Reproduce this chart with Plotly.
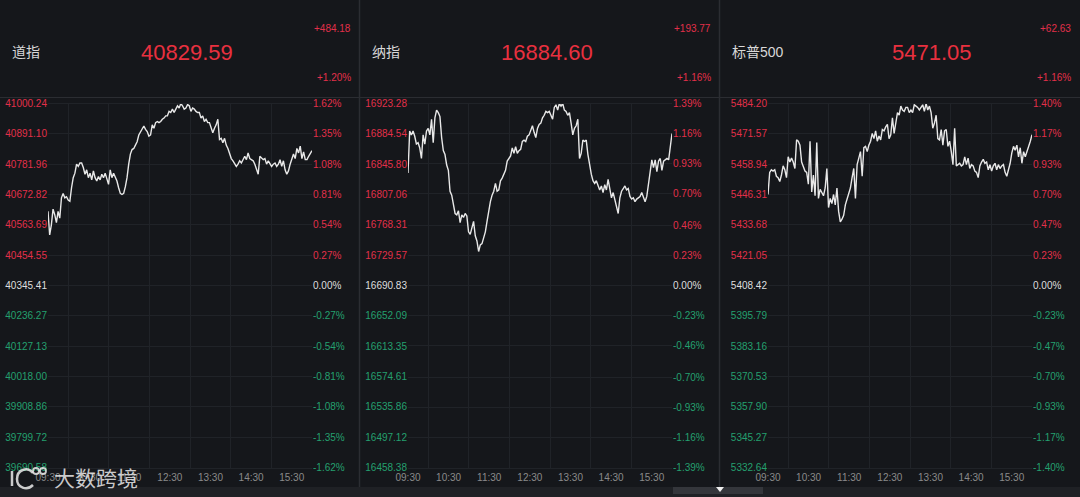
import pandas as pd
import plotly.graph_objects as go

W, H = 1080, 497
DAY = "2024-07-12"

names = ["道指", "纳指", "标普500"]
last_prices = ["40829.59", "16884.60", "5471.05"]
changes = ["+484.18", "+193.77", "+62.63"]
change_pcts = ["+1.20%", "+1.16%", "+1.16%"]

time_labels = ["09:30", "10:30", "11:30", "12:30", "13:30", "14:30", "15:30"]
grid_times = ["10:00", "11:00", "12:00", "13:00", "14:00", "15:00"]

dow_price_ticks = [41000.24, 40891.10, 40781.96, 40672.82, 40563.69, 40454.55, 40345.41,
                   40236.27, 40127.13, 40018.00, 39908.86, 39799.72, 39690.58]
dow_pct_ticks = [1.62, 1.35, 1.08, 0.81, 0.54, 0.27, 0.00, -0.27, -0.54, -0.81, -1.08, -1.35, -1.62]

nasdaq_price_ticks = [16923.28, 16884.54, 16845.80, 16807.06, 16768.31, 16729.57, 16690.83,
                      16652.09, 16613.35, 16574.61, 16535.86, 16497.12, 16458.38]
nasdaq_pct_ticks = [1.39, 1.16, 0.93, 0.70, 0.46, 0.23, 0.00, -0.23, -0.46, -0.70, -0.93, -1.16, -1.39]

sp_price_ticks = [5484.20, 5471.57, 5458.94, 5446.31, 5433.68, 5421.05, 5408.42,
                  5395.79, 5383.16, 5370.53, 5357.90, 5345.27, 5332.64]
sp_pct_ticks = [1.40, 1.17, 0.93, 0.70, 0.47, 0.23, 0.00, -0.23, -0.47, -0.70, -0.93, -1.17, -1.40]

# intraday change vs previous close, %
dow_pct = [0.66, 0.45, 0.54, 0.68, 0.63, 0.56, 0.66, 0.60, 0.78, 0.82,
           0.78, 0.79, 0.76, 0.75, 0.87, 0.96, 1.00, 1.08, 1.06, 1.09,
           1.09, 1.05, 0.99, 1.03, 0.96, 1.00, 0.94, 1.02, 0.96, 0.93,
           0.97, 0.94, 0.99, 0.96, 1.00, 0.94, 0.90, 1.03, 0.96, 1.00,
           0.97, 0.93, 0.87, 0.82, 0.81, 0.82, 0.88, 0.96, 1.08, 1.17,
           1.21, 1.22, 1.25, 1.28, 1.34, 1.37, 1.40, 1.42, 1.39, 1.37,
           1.33, 1.34, 1.43, 1.40, 1.45, 1.46, 1.45, 1.46, 1.48, 1.49,
           1.51, 1.51, 1.55, 1.54, 1.57, 1.54, 1.57, 1.60, 1.58, 1.62,
           1.60, 1.57, 1.58, 1.61, 1.60, 1.55, 1.58, 1.57, 1.55, 1.54,
           1.54, 1.49, 1.51, 1.46, 1.48, 1.45, 1.45, 1.40, 1.36, 1.40,
           1.43, 1.48, 1.30, 1.31, 1.27, 1.31, 1.25, 1.22, 1.18, 1.13,
           1.11, 1.09, 1.06, 1.08, 1.11, 1.09, 1.12, 1.15, 1.12, 1.18,
           1.13, 1.12, 1.11, 1.08, 1.03, 0.99, 1.15, 1.13, 1.12, 1.13,
           1.08, 1.11, 1.09, 1.06, 1.08, 1.09, 1.06, 1.08, 1.12, 1.06,
           1.11, 1.03, 0.99, 1.02, 1.08, 1.13, 1.17, 1.13, 1.22, 1.18,
           1.24, 1.13, 1.19, 1.12, 1.12, 1.15, 1.17, 1.20]

nasdaq_pct = [0.86, 1.18, 1.15, 1.18, 1.14, 1.08, 1.09, 1.05, 0.97, 1.15,
              1.08, 1.18, 1.20, 1.15, 1.27, 1.09, 1.28, 1.34, 1.32, 1.29,
              1.13, 1.03, 1.00, 0.92, 0.88, 0.72, 0.69, 0.62, 0.55, 0.54,
              0.57, 0.48, 0.54, 0.52, 0.55, 0.53, 0.41, 0.39, 0.44, 0.49,
              0.38, 0.34, 0.26, 0.31, 0.32, 0.36, 0.41, 0.49, 0.57, 0.64,
              0.69, 0.72, 0.78, 0.72, 0.73, 0.80, 0.82, 0.85, 0.88, 0.95,
              0.97, 0.99, 1.05, 1.01, 1.06, 1.01, 1.03, 1.04, 1.10, 1.11,
              1.10, 1.14, 1.15, 1.18, 1.22, 1.17, 1.13, 1.20, 1.23, 1.24,
              1.28, 1.30, 1.33, 1.32, 1.33, 1.30, 1.27, 1.36, 1.38, 1.34,
              1.39, 1.37, 1.39, 1.34, 1.33, 1.30, 1.32, 1.24, 1.15, 1.20,
              1.22, 1.27, 0.97, 1.01, 1.11, 1.10, 1.11, 1.00, 0.92, 0.85,
              0.80, 0.78, 0.80, 0.77, 0.73, 0.76, 0.71, 0.77, 0.73, 0.81,
              0.74, 0.67, 0.71, 0.66, 0.59, 0.55, 0.67, 0.72, 0.74, 0.76,
              0.73, 0.74, 0.68, 0.66, 0.67, 0.64, 0.66, 0.67, 0.68, 0.71,
              0.67, 0.64, 0.68, 0.77, 0.86, 0.96, 0.90, 0.96, 0.87, 0.95,
              0.97, 0.88, 0.95, 0.96, 0.97, 0.96, 1.05, 1.16]

sp_pct = [0.70, 0.87, 0.89, 0.88, 0.89, 0.84, 0.83, 0.80, 0.85, 0.92,
          0.89, 0.83, 0.99, 0.95, 0.98, 0.95, 0.90, 1.12, 1.11, 1.08,
          0.95, 0.92, 0.88, 0.87, 0.78, 1.11, 0.72, 0.85, 0.69, 1.10,
          0.67, 0.74, 0.71, 0.69, 0.75, 0.90, 0.60, 0.67, 0.63, 0.70,
          0.62, 0.75, 0.57, 0.49, 0.51, 0.54, 0.62, 0.67, 0.70, 0.75,
          0.83, 0.90, 0.67, 0.93, 0.98, 1.03, 0.84, 1.06, 1.07, 1.03,
          1.08, 1.11, 1.17, 1.13, 1.19, 1.11, 1.15, 1.12, 1.20, 1.19,
          1.22, 1.24, 1.13, 1.16, 1.29, 1.17, 1.25, 1.33, 1.31, 1.38,
          1.35, 1.34, 1.37, 1.37, 1.33, 1.35, 1.33, 1.39, 1.38, 1.37,
          1.35, 1.37, 1.39, 1.34, 1.40, 1.35, 1.38, 1.33, 1.21, 1.25,
          1.31, 1.13, 1.12, 1.20, 1.08, 1.19, 1.20, 1.07, 1.11, 1.03,
          0.93, 1.21, 0.92, 0.93, 0.94, 0.92, 0.93, 0.99, 0.93, 0.98,
          0.90, 0.93, 0.92, 0.88, 0.87, 0.83, 0.92, 0.95, 0.97, 0.94,
          0.95, 0.89, 0.93, 0.88, 0.92, 0.94, 0.89, 0.93, 0.90, 0.92,
          0.93, 0.87, 0.84, 0.89, 0.94, 1.02, 1.07, 1.04, 1.08, 0.99,
          1.06, 0.94, 1.03, 0.99, 1.03, 1.06, 1.11, 1.16]

BG = "#15171b"
GRID = "#202328"
DIVIDER = "#2b2d32"
RED = "#e2304a"
GREEN = "#24a06f"
ZERO = "#dedede"
WATERMARK = "rgba(235,235,235,0.85)"
FONT = "Liberation Sans, Arial, Noto Sans CJK SC, sans-serif"


def px(x):
    return x / W


def py(y):
    return 1 - y / H


def pt(x, y):
    return f"{px(x)},{py(y)}"


def colored(vals, signs, fmt):
    out = []
    for v, s in zip(vals, signs):
        c = RED if s > 0 else GREEN if s < 0 else ZERO
        out.append(f"<span style='color:{c}'>{fmt.format(v)}</span>")
    return out


panels = [
    (dow_pct, dow_price_ticks, dow_pct_ticks, 187),
    (nasdaq_pct, nasdaq_price_ticks, nasdaq_pct_ticks, 187),
    (sp_pct, sp_price_ticks, sp_pct_ticks, 212),
]

fig = go.Figure()
layout = {}
annotations = []
shapes = []

for i, (series, price_ticks, pct_ticks, center) in enumerate(panels):
    ox = 360 * i
    xa = f"x{i + 1}" if i else "x"
    ya_pct = f"y{2 * i + 1}" if i else "y"
    ya_price = f"y{2 * i + 2}"
    times = pd.date_range(f"{DAY} 09:30", f"{DAY} 16:00", periods=len(series))

    fig.add_trace(go.Scatter(x=times, y=series, xaxis=xa, yaxis=ya_pct, mode="lines",
                             line=dict(color="#e8e8e8", width=1.4), showlegend=False,
                             hoverinfo="skip"))
    fig.add_trace(go.Scatter(x=[times[0]], y=[price_ticks[6]], xaxis=xa, yaxis=ya_price,
                             mode="markers", marker=dict(opacity=0), showlegend=False,
                             hoverinfo="skip"))

    xkey = f"xaxis{i + 1}" if i else "xaxis"
    layout[xkey] = dict(
        domain=[px(ox + 48), px(ox + 312)], anchor=ya_pct, type="date", automargin=False,
        range=[f"{DAY} 09:30", f"{DAY} 16:00"],
        tickmode="array", tickvals=[f"{DAY} {t}" for t in time_labels], ticktext=time_labels,
        tickfont=dict(size=10, color="#8a8a8a"), ticks="", showgrid=False, zeroline=False,
        minor=dict(tickmode="array", tickvals=[f"{DAY} {t}" for t in grid_times],
                   showgrid=True, gridcolor=GRID, gridwidth=1, ticks=""),
        showline=True, mirror=True, linecolor=GRID, linewidth=1,
    )
    ykey = f"yaxis{2 * i + 1}" if i else "yaxis"
    layout[ykey] = dict(
        domain=[py(467.5), py(103.5)], anchor=xa, side="right", automargin=False,
        range=[pct_ticks[-1], pct_ticks[0]], tickmode="array", tickvals=pct_ticks,
        ticktext=colored(pct_ticks, pct_ticks, "{:.2f}%"), tickfont=dict(size=10), ticks="",
        showgrid=True, gridcolor=GRID, gridwidth=1, zeroline=False, showline=False,
    )
    layout[f"yaxis{2 * i + 2}"] = dict(
        overlaying=ya_pct, anchor=xa, side="left", automargin=False,
        range=[price_ticks[-1], price_ticks[0]], tickmode="array", tickvals=price_ticks,
        ticktext=colored(price_ticks, pct_ticks, "{:.2f}"), tickfont=dict(size=10), ticks="",
        showgrid=False, zeroline=False, showline=False,
    )

    annotations += [
        dict(x=px(ox + 10), y=py(52), text=names[i], xanchor="left", yanchor="middle",
             font=dict(size=14, color="#d8d8d8")),
        dict(x=px(ox + center), y=py(52), text=last_prices[i], xanchor="center",
             yanchor="middle", font=dict(size=22, color="#e8303f")),
        dict(x=px(ox + 353), y=py(28), text=changes[i], xanchor="right", yanchor="middle",
             font=dict(size=10, color=RED)),
        dict(x=px(ox + 353), y=py(77), text=change_pcts[i], xanchor="right",
             yanchor="middle", font=dict(size=10, color=RED)),
    ]

# panel frame: header rule, dividers, bottom strip
shapes += [
    dict(type="line", x0=0, x1=1, y0=py(97.5), y1=py(97.5), line=dict(color=DIVIDER, width=1)),
    dict(type="line", x0=px(359.5), x1=px(359.5), y0=py(487), y1=1, line=dict(color=DIVIDER, width=1.5)),
    dict(type="line", x0=px(719.5), x1=px(719.5), y0=py(487), y1=1, line=dict(color=DIVIDER, width=1.5)),
    dict(type="rect", x0=0, x1=1, y0=0, y1=py(487), fillcolor="#1f2125", line=dict(width=0)),
    dict(type="rect", x0=px(673), x1=px(763), y0=py(494), y1=py(487), fillcolor="#34363b", line=dict(width=0)),
    dict(type="path", path=f"M {pt(716, 487)} L {pt(724, 487)} L {pt(720, 492)} Z",
         fillcolor="#f0f0f0", line=dict(width=0)),
]

# watermark logo mark (bar, open ring, two small rings)
shapes += [
    dict(type="line", x0=px(12), x1=px(12), y0=py(486), y1=py(471),
         line=dict(color=WATERMARK, width=2.5)),
    dict(type="path",
         path=f"M {pt(33, 473)} C {pt(27, 466)} {pt(17, 470)} {pt(17, 479)} "
              f"C {pt(17, 488)} {pt(27, 491)} {pt(33, 485)}",
         line=dict(color=WATERMARK, width=2.5)),
    dict(type="circle", x0=px(33), x1=px(39), y0=py(474), y1=py(468),
         line=dict(color=WATERMARK, width=1.8)),
    dict(type="circle", x0=px(40), x1=px(46), y0=py(474), y1=py(468),
         line=dict(color=WATERMARK, width=1.8)),
]
for s in shapes:
    s.update(xref="paper", yref="paper", layer="above")

annotations.append(dict(x=px(52), y=py(478), text="大数跨境", xanchor="left", yanchor="middle",
                        font=dict(size=21, color=WATERMARK)))
for a in annotations:
    a.update(xref="paper", yref="paper", showarrow=False)

fig.update_layout(
    template="none",
    width=W, height=H, margin=dict(l=0, r=0, t=0, b=0, autoexpand=False),
    paper_bgcolor=BG, plot_bgcolor=BG,
    font=dict(family=FONT, size=10, color="#8a8a8a"),
    annotations=annotations, shapes=shapes, showlegend=False,
    **layout,
)

fig.write_html("out.html", config={"displayModeBar": False},
               post_script="document.body.style.margin='0';document.body.style.overflow='hidden';")
